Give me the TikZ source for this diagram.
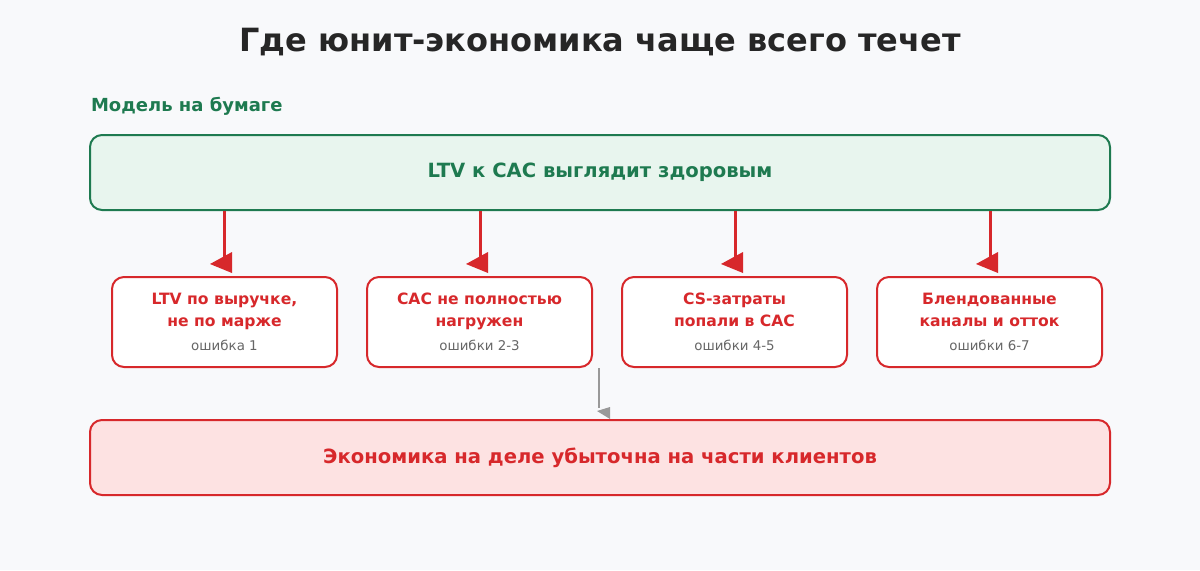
\documentclass[tikz,border=0pt]{standalone}
\usepackage{fontspec}
\setmainfont{DejaVu Sans}
\usetikzlibrary{positioning}
\definecolor{bgc}{HTML}{F8F9FB}
\definecolor{grn}{HTML}{1E7A50}
\definecolor{grnfill}{HTML}{E8F5EE}
\definecolor{redc}{HTML}{D7282B}
\definecolor{redfill}{HTML}{FDE2E2}
\definecolor{graytxt}{HTML}{666666}
\tikzset{
  wide/.style = {draw, rounded corners=6pt, line width=1pt, minimum width=510pt, minimum height=37.5pt, font=\bfseries\fontsize{9.8}{12}\selectfont},
  err/.style = {draw=redc, fill=white, rounded corners=6pt, line width=1pt, minimum width=112.5pt, minimum height=45pt, align=center, text=redc, font=\bfseries\fontsize{7.8}{11}\selectfont},
  link/.style = {draw=redc, line width=1.5pt}
}
\newcommand{\errnum}[1]{{\normalfont\fontsize{6.7}{8}\selectfont\color{graytxt}#1}}
\begin{document}
\begin{tikzpicture}[x=0.5pt, y=-0.5pt]
    \fill [bgc] (0, 0) rectangle (1200, 570);
    \useasboundingbox (0, 0) rectangle (1200, 570);

    \node [font=\bfseries\fontsize{16}{18}\selectfont, text={black!85}] (title) at (600, 42) {Где юнит-экономика чаще всего течет};
    \node [anchor=west, text=grn, font=\bfseries\fontsize{9}{11}\selectfont] (paper) at (84, 106) {Модель на бумаге};

    \node [wide, draw=grn, fill=grnfill, text=grn] (model) at (600, 172.5) {LTV к CAC выглядит здоровым};
    \node [wide, draw=redc, fill=redfill, text=redc] (real) at (600, 457.5) {Экономика на деле убыточна на части клиентов};

    \node [err] (e1) at (224.5, 322) {LTV по выручке,\\не по марже\\[1pt]\errnum{ошибка 1}};
    \node [err] (e2) at (479.5, 322) {CAC не полностью\\нагружен\\[1pt]\errnum{ошибки 2-3}};
    \node [err] (e3) at (734.5, 322) {CS-затраты\\попали в CAC\\[1pt]\errnum{ошибки 4-5}};
    \node [err] (e4) at (989.5, 322) {Блендованные\\каналы и отток\\[1pt]\errnum{ошибки 6-7}};

    % red arrows, heads drawn skewed as in the picture
    \foreach \i/\x in {1/224, 2/480, 3/735, 4/990} {
        \coordinate (h\i) at (\x, 262);
        \draw [link] (model.south -| h\i) -- (h\i);
        \fill [redc] (\x+8, 252) -- (\x+8, 273) -- (\x-14, 264) -- cycle;
    }

    % gray arrow to the result
    \coordinate (g) at (599, 368);
    \coordinate (gh) at (599, 408);
    \draw [gray!80, line width=1.2pt] (g) -- (gh);
    \fill [gray!80] (610, 407) -- (610, 419) -- (597, 411) -- cycle;
\end{tikzpicture}
\end{document}
